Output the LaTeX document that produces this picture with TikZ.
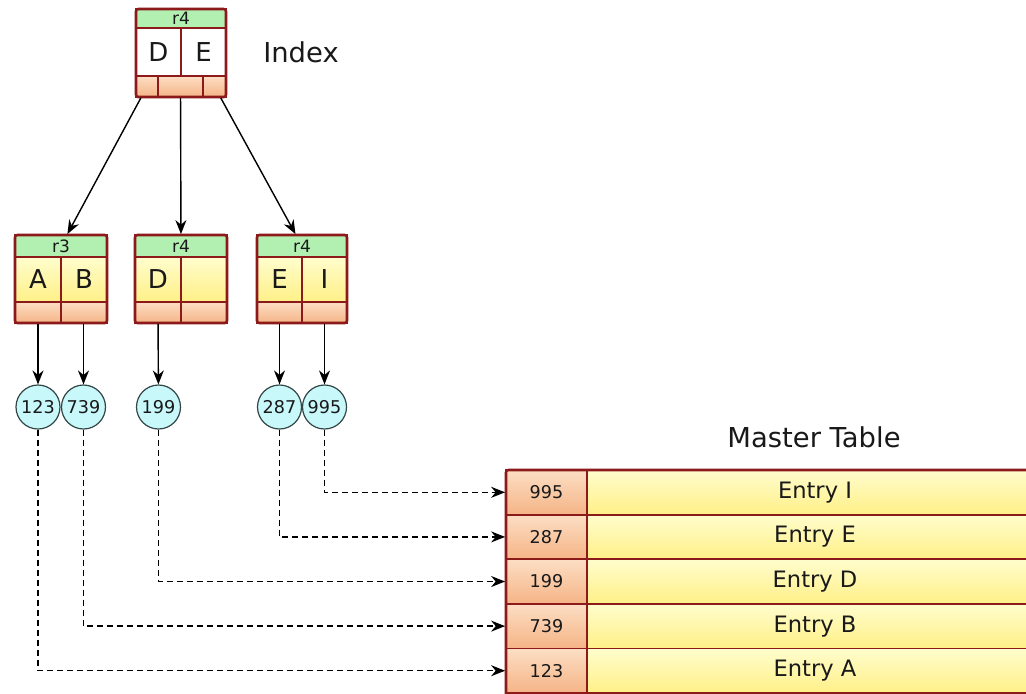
\documentclass[tikz,border=0pt]{standalone}
\usepackage{fontspec}
\setmainfont{DejaVu Sans}
\usetikzlibrary{arrows.meta,calc}
\definecolor{bord}{RGB}{140,26,26}
\definecolor{hdr}{RGB}{178,240,178}
\definecolor{ylt}{RGB}{255,253,205}
\definecolor{ydk}{RGB}{255,240,135}
\definecolor{olt}{RGB}{252,222,196}
\definecolor{odk}{RGB}{245,180,134}
\definecolor{cyanfill}{RGB}{200,248,250}
\definecolor{circbord}{RGB}{50,70,70}
\definecolor{txt}{RGB}{25,25,25}
\tikzset{
  cellbase/.style={draw=bord, line width=0.9pt, inner sep=0pt, text=txt},
  hdrcell/.style={cellbase, fill=hdr, font=\fontsize{8.5}{8.5}\selectfont},
  whitecell/.style={cellbase, fill=white, font=\fontsize{13}{13}\selectfont},
  ycell/.style={cellbase, top color=ylt, bottom color=ydk, font=\fontsize{13}{13}\selectfont},
  ocell/.style={cellbase, top color=olt, bottom color=odk},
  outerbox/.style={draw=bord, line width=1.3pt, rounded corners=1.2pt},
  ptr/.style={circle, draw=circbord, line width=0.6pt, fill=cyanfill, minimum size=22pt, inner sep=0pt, text=txt, font=\fontsize{8.8}{8.8}\selectfont},
  keycell/.style={cellbase, top color=olt, bottom color=odk, font=\fontsize{8.8}{8.8}\selectfont, minimum width=40.5pt, minimum height=22.3pt},
  entrycell/.style={cellbase, top color=ylt, bottom color=ydk, font=\fontsize{11.3}{11.3}\selectfont, minimum width=228pt, minimum height=22.3pt},
  solidarrow/.style={-{Stealth[length=7pt,width=5.5pt]}, line width=0.7pt, black},
  dasharrow/.style={-{Stealth[length=7pt,width=5.5pt]}, line width=0.7pt, black, dash pattern=on 3pt off 2pt},
  label/.style={text=txt, font=\fontsize{13.7}{13.7}\selectfont}
}
% level node: name, xl, xm, xr, header text, left text, right text
\newcommand\lvnode[7]{%
  \node[hdrcell, minimum width={(#4-#2)*0.5pt}, minimum height=11pt] (#1h) at ({(#2+#4)/2},246) {#5};
  \node[ycell, minimum width={(#3-#2)*0.5pt}, minimum height=22.5pt] (#1a) at ({(#2+#3)/2},279.5) {#6};
  \node[ycell, minimum width={(#4-#3)*0.5pt}, minimum height=22.5pt] (#1b) at ({(#3+#4)/2},279.5) {#7};
  \node[ocell, minimum width={(#3-#2)*0.5pt}, minimum height=10.5pt] (#1oa) at ({(#2+#3)/2},312.5) {};
  \node[ocell, minimum width={(#4-#3)*0.5pt}, minimum height=10.5pt] (#1ob) at ({(#3+#4)/2},312.5) {};
  \draw[outerbox] (#2,235) rectangle (#4,323);
}
\begin{document}
\begin{tikzpicture}[x=0.5pt,y=-0.5pt]
\useasboundingbox (0,0) rectangle (1026,693);
\clip (0,0) rectangle (1026,693);

% top index node
\node[hdrcell, minimum width=45pt, minimum height=9.5pt] (th) at (181,18.5) {r4};
\node[whitecell, minimum width=22.5pt, minimum height=24pt] (td) at (158.5,52) {D};
\node[whitecell, minimum width=22.5pt, minimum height=24pt] (te) at (203.5,52) {E};
\node[ocell, minimum width=11pt, minimum height=10.5pt] (to1) at (147,86.5) {};
\node[ocell, minimum width=22.5pt, minimum height=10.5pt] (to2) at (180.5,86.5) {};
\node[ocell, minimum width=11.5pt, minimum height=10.5pt] (to3) at (214.5,86.5) {};
\draw[outerbox] (136,9) rectangle (226,97);

\node[label, anchor=center] (idx) at (301,52) {Index};

% second level
\lvnode{na}{15}{61}{107}{r3}{A}{B}
\lvnode{nb}{135}{181}{227}{r4}{D}{}
\lvnode{nc}{257}{302}{347}{r4}{E}{I}

\draw[solidarrow] (to1) -- (nah);
\draw[solidarrow] (to2) -- (nbh);
\draw[solidarrow] (to3) -- (nch);

% pointer circles
\node[ptr] (c123) at (38,407) {123};
\node[ptr] (c739) at (83.5,407) {739};
\node[ptr] (c199) at (158.5,407) {199};
\node[ptr] (c287) at (279.5,407) {287};
\node[ptr] (c995) at (324.5,407) {995};

\draw[solidarrow] (naoa) -- (c123);
\draw[solidarrow] (naob.south -| c739) -- (c739);
\draw[solidarrow] (nboa) -- (c199);
\draw[solidarrow] (ncoa) -- (c287);
\draw[solidarrow] (ncob) -- (c995);

% master table
\node[label] (mt) at (814,437) {Master Table};
\node[keycell] (k995) at (546.5,492.3) {995};
\node[entrycell] (e995) at (815,492.3) {Entry I};
\node[keycell] (k287) at (546.5,536.9) {287};
\node[entrycell] (e287) at (815,536.9) {Entry E};
\node[keycell] (k199) at (546.5,581.5) {199};
\node[entrycell] (e199) at (815,581.5) {Entry D};
\node[keycell] (k739) at (546.5,626.1) {739};
\node[entrycell] (e739) at (815,626.1) {Entry B};
\node[keycell] (k123) at (546.5,670.7) {123};
\node[entrycell] (e123) at (815,670.7) {Entry A};
\draw[outerbox] (506,470) rectangle (1043,715);

\draw[dasharrow] (c995) |- (k995);
\draw[dasharrow] (c287) |- (k287);
\draw[dasharrow] (c199) |- (k199);
\draw[dasharrow] (c739) |- (k739);
\draw[dasharrow] (c123) |- (k123);
\end{tikzpicture}
\end{document}
